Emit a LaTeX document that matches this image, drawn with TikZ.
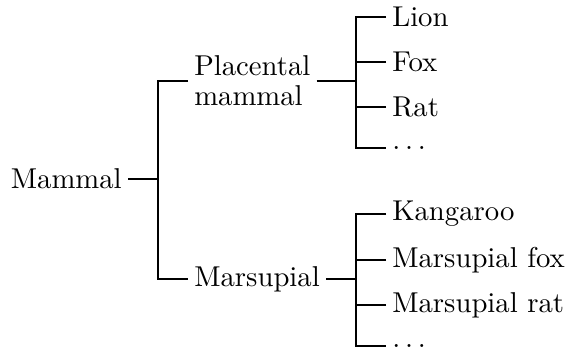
\documentclass[tikz,border=0pt]{standalone}
\begin{document}
\begin{tikzpicture}[x=0.3484pt,y=-0.3484pt,
  every node/.style={inner sep=2pt},
  lbl/.style={anchor=west},
  conn/.style={line width=0.75pt}]
\useasboundingbox (0,0) rectangle (570,352);
% root
\node[anchor=east] (mammal) at (128,179) {Mammal};
\coordinate (j0) at (158,179);
% level 1
\node[lbl, align=left] (plac) at (188,81) {Placental\\[-1.6pt]mammal};
\node[lbl] (mars) at (188,279) {Marsupial};
\coordinate (j1) at (356,81);
\coordinate (j2) at (356,279);
% level 2 upper
\node[lbl] (lion) at (386,17) {Lion};
\node[lbl] (fox) at (386,62) {Fox};
\node[lbl] (rat) at (386,107) {Rat};
\node[lbl] (pdots) at (386,148) {$\ldots$};
% level 2 lower
\node[lbl] (kang) at (386,214) {Kangaroo};
\node[lbl] (mfox) at (386,260) {Marsupial fox};
\node[lbl] (mrat) at (386,305) {Marsupial rat};
\node[lbl] (mdots) at (386,346) {$\ldots$};
% connectors
\draw[conn] (mammal.east) -- (j0);
\draw[conn] (plac.west) -| (j0) |- (mars.west);
\draw[conn] (plac.east) -- (j1);
\draw[conn] (lion.west) -| (j1) |- (pdots.west);
\draw[conn] (fox.west) -- (fox.west -| j1);
\draw[conn] (rat.west) -- (rat.west -| j1);
\draw[conn] (mars.east) -- (j2);
\draw[conn] (kang.west) -| (j2) |- (mdots.west);
\draw[conn] (mfox.west) -- (mfox.west -| j2);
\draw[conn] (mrat.west) -- (mrat.west -| j2);
\end{tikzpicture}
\end{document}
